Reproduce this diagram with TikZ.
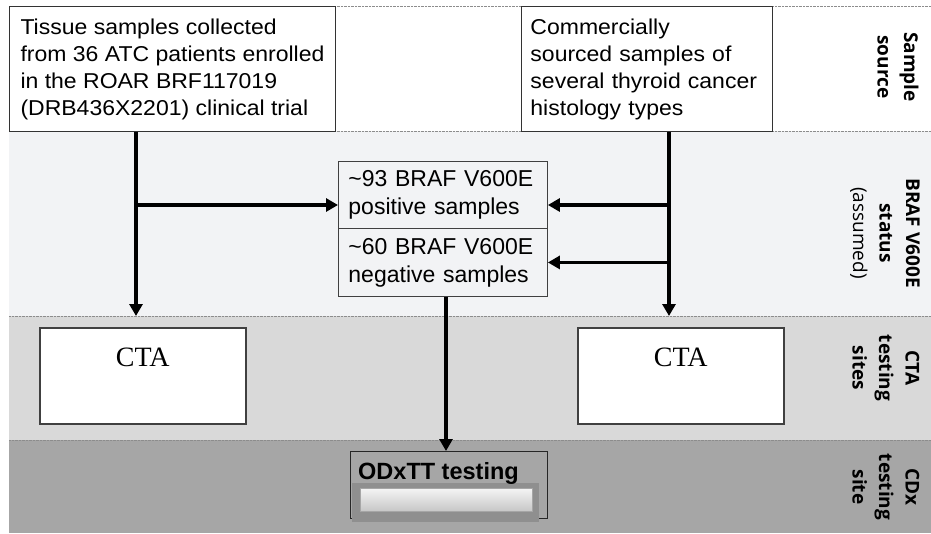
\documentclass[tikz,border=0pt]{standalone}
\usepackage{fontspec}
\setmainfont{Liberation Sans}
\newfontfamily\boxfont[FakeStretch=1.07]{Liberation Sans}
\newfontfamily\labfont{Open Sans}
\newfontfamily\ctafont{Liberation Serif}
\usetikzlibrary{arrows.meta}
\definecolor{bandA}{HTML}{FFFFFF}
\definecolor{bandB}{HTML}{F2F3F5}
\definecolor{bandC}{HTML}{D9D9D9}
\definecolor{bandD}{HTML}{A6A6A6}
\tikzset{
  bandline/.style={draw=black!45, line width=0.8pt, dash pattern=on 0.7pt off 0.7pt},
  srcbox/.style={draw=black!80, fill=white, line width=0.9pt, anchor=north west,
    inner ysep=0pt, align=left, minimum height=125pt,
    font=\boxfont\fontsize{21.5}{27}\selectfont},
  midbox/.style={draw=black!75, fill=bandB, line width=0.9pt, anchor=north west,
    inner xsep=10pt, inner ysep=0pt, text width=189pt, align=left,
    font=\fontsize{23}{28}\selectfont},
  ctabox/.style={draw=black!75, fill=white, line width=1.6pt, anchor=north west,
    minimum width=206pt, minimum height=96pt, inner sep=0pt},
  ctatext/.style={font=\ctafont\fontsize{28}{30}\selectfont, anchor=base},
  sidelab/.style={rotate=-90, align=center, font=\labfont\fontsize{19}{26.5}\selectfont},
  arr/.style={line width=3.2pt, -{Triangle[length=12pt,width=13pt]}},
}
\begin{document}
\begin{tikzpicture}[x=1pt,y=-1pt]
\useasboundingbox (0,0) rectangle (931,533);
% bands
\fill[bandA] (9,6) rectangle (931,131);
\fill[bandB] (9,131) rectangle (931,316);
\fill[bandC] (9,316) rectangle (931,440);
\fill[bandD] (9,440) rectangle (931,533);
\draw[bandline] (9,6) -- (931,6);
\draw[bandline] (9,131) -- (931,131);
\draw[bandline] (9,316) -- (931,316);
\draw[bandline] (9,440) -- (931,440);

% sample source boxes
\node[srcbox, minimum width=326pt, inner xsep=8pt] (box1) at (9,6)
  {Tissue samples collected\\from 36 ATC patients enrolled\\in the ROAR BRF117019\\(DRB436X2201) clinical trial};
\node[srcbox, minimum width=251pt, inner xsep=9pt, text width=233pt] (box2) at (521,6)
  {Commercially\\sourced samples of\\several thyroid cancer\\histology types};

% BRAF status boxes
\node[midbox, minimum height=67pt] (pos) at (338,161)
  {\textasciitilde93 BRAF V600E\\positive samples};
\node[midbox, minimum height=68pt] (neg) at (338,228)
  {\textasciitilde60 BRAF V600E\\negative samples};

% CTA boxes
\node[ctabox] (ctaL) at (39,327) {};
\node[ctabox] (ctaR) at (577,327) {};
\node[ctatext] (ctaLt) at ([yshift=-39pt]ctaL.north) {CTA};
\node[ctatext] (ctaRt) at ([yshift=-39pt]ctaR.north) {CTA};

% ODxTT testing
\node[draw=black!85, line width=1pt, anchor=north west, minimum width=197pt,
      minimum height=67pt, inner sep=0pt] (odx) at (350,451) {};
\fill[black!44] (352,483) rectangle (539,522);
\shade[top color=black!4, bottom color=black!22, draw=black!35, line width=0.5pt]
  (360,488) rectangle (532,511);
\node[anchor=base west, font=\bfseries\fontsize{23.5}{25}\selectfont, inner sep=0pt]
  (odxt) at (358,479) {ODxTT testing};

% connectors
\coordinate (ldown) at (136,316);
\coordinate (rdown) at (669,316);
\coordinate (brY) at (0,205);
\draw[arr] (box1.south -| ldown) -- (ldown);
\draw[arr] (ldown |- brY) -- (pos.west |- brY);
\draw[arr] (box2.south -| rdown) -- (rdown);
\draw[arr] (rdown |- brY) -- (pos.east |- brY);
\draw[arr] (neg.east -| rdown) -- (neg.east);
\draw[arr] (neg.south -| 446,0) -- (odx.north -| 446,0);

% side labels
\node[sidelab] (labA) at (898,67) {\bfseries Sample\\\bfseries source};
\node[sidelab] (labB) at (885,233) {\bfseries BRAF V600E\\\bfseries status\\(assumed)};
\node[sidelab] (labC) at (886,368) {\bfseries CTA\\\bfseries testing\\\bfseries sites};
\node[sidelab] (labD) at (886,487) {\bfseries CDx\\\bfseries testing\\\bfseries site};
\end{tikzpicture}
\end{document}
